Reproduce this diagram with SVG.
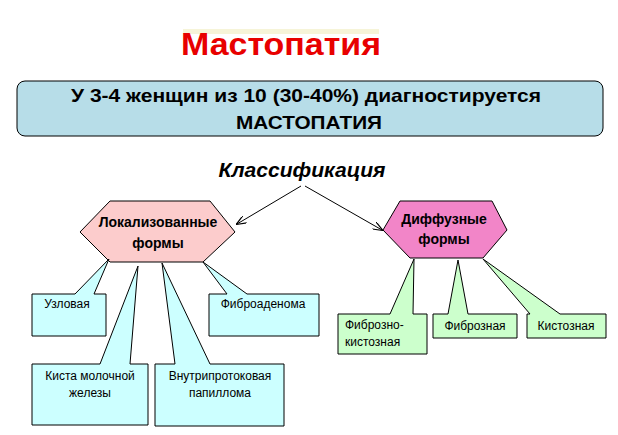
<svg xmlns="http://www.w3.org/2000/svg" width="618" height="435" viewBox="0 0 618 435">
<style>
text{font-family:"Liberation Sans",Arial,sans-serif;fill:#000}
.b{font-weight:bold}
.s{font-size:12px}
.c{stroke:#000;stroke-width:1}
.cy{fill:#ccffff}
.gr{fill:#ccffcc}
</style>
<defs>
<marker id="ah" markerWidth="10" markerHeight="8" refX="9" refY="4" orient="auto" markerUnits="userSpaceOnUse">
<path d="M0,0 L10,4 L0,8" fill="none" stroke="#000" stroke-width="1.2"/>
</marker>
</defs>
<rect width="618" height="435" fill="#fff"/>
<g id="title">
<rect x="183" y="29" width="196" height="5" fill="#f2f0c8" opacity="0.7"/>
<text x="281" y="55" text-anchor="middle" class="b" font-size="32" textLength="200" lengthAdjust="spacingAndGlyphs" style="fill:#e80000">Мастопатия</text>
</g>
<g id="banner">
<rect x="17" y="81" width="586" height="55" rx="8" fill="#b7dde8" stroke="#000" stroke-width="1"/>
<text x="306" y="102" text-anchor="middle" class="b" font-size="19" textLength="470" lengthAdjust="spacingAndGlyphs">У 3-4 женщин из 10 (30-40%) диагностируется</text>
<text x="309" y="129" text-anchor="middle" class="b" font-size="19" textLength="146" lengthAdjust="spacingAndGlyphs">МАСТОПАТИЯ</text>
</g>
<g id="classification">
<text x="302" y="177" text-anchor="middle" class="b" font-size="20" font-style="italic" textLength="167" lengthAdjust="spacingAndGlyphs">Классификация</text>
</g>
<g id="connectors">
<line x1="301" y1="186" x2="237" y2="224" stroke="#000" stroke-width="1" marker-end="url(#ah)"/>
<line x1="305" y1="186" x2="382" y2="230" stroke="#000" stroke-width="1" marker-end="url(#ah)"/>
</g>
<g id="localized">
<polygon points="80,232 110,201 210,201 235,232 203,262 110,262" fill="#fccccc" class="c"/>
<text x="158" y="227" text-anchor="middle" class="b" font-size="14">Локализованные</text>
<text x="158" y="248" text-anchor="middle" class="b" font-size="14">формы</text>
</g>
<g id="diffuse">
<polygon points="383,230 400,201 492,201 507,230 483,258 410,258" fill="#f285c8" class="c"/>
<text x="444" y="224" text-anchor="middle" class="b" font-size="14">Диффузные</text>
<text x="444" y="244" text-anchor="middle" class="b" font-size="14">формы</text>
</g>
<g id="uzlovaya">
<path d="M32,294 H75 L109,259 L94,294 H106 V336 H32 Z" class="c cy"/>
<text x="67" y="308" text-anchor="middle" class="s">Узловая</text>
</g>
<g id="fibroadenoma">
<path d="M209,294 H227 L203,262 L247,294 H319 V336 H209 Z" class="c cy"/>
<text x="263" y="308" text-anchor="middle" class="s">Фиброаденома</text>
</g>
<g id="kista">
<path d="M32,364 H100 L138,266 L130,364 H148 V425 H32 Z" class="c cy"/>
<text x="90" y="380" text-anchor="middle" class="s">Киста молочной</text>
<text x="90" y="397" text-anchor="middle" class="s">железы</text>
</g>
<g id="papilloma">
<path d="M155,364 H175 L162,263 L210,364 H284 V426 H155 Z" class="c cy"/>
<text x="220" y="380" text-anchor="middle" class="s">Внутрипротоковая</text>
<text x="220" y="397" text-anchor="middle" class="s">папиллома</text>
</g>
<g id="fibrokist">
<path d="M338,314 H390 L414,259 L413,314 H427 V354 H338 Z" class="c gr"/>
<text x="345" y="329" class="s">Фиброзно-</text>
<text x="345" y="346" class="s">кистозная</text>
</g>
<g id="fibroznaya">
<path d="M433,314 H448 L458,260 L468,314 H517 V338 H433 Z" class="c gr"/>
<text x="475" y="330" text-anchor="middle" class="s">Фиброзная</text>
</g>
<g id="kistoznaya">
<path d="M527,314 H530 L483,259 L560,314 H606 V338 H527 Z" class="c gr"/>
<text x="566" y="330" text-anchor="middle" class="s">Кистозная</text>
</g>
</svg>
